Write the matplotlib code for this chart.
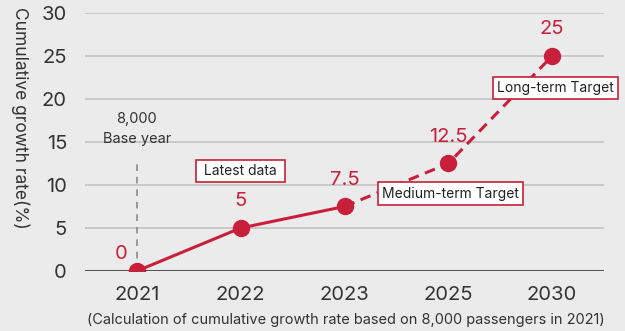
import matplotlib
matplotlib.use("Agg")
import matplotlib.pyplot as plt

years = ["2021", "2022", "2023", "2025", "2030"]
values = [0, 5, 7.5, 12.5, 25]
value_labels = ["0", "5", "7.5", "12.5", "25"]
yticks = [0, 5, 10, 15, 20, 25, 30]

RED = "#c8203a"
BG = "#ebebeb"
TXT = "#333333"

plt.rcParams['font.family'] = ['Inter', 'DejaVu Sans']

fig = plt.figure(figsize=(6.25, 3.31), dpi=100, facecolor=BG)
ax = fig.add_axes([0.136, 0.1813, 0.8304, 0.7794], facecolor=BG)

x = list(range(len(years)))
ax.set_xlim(-0.5, 4.5)
ax.set_ylim(0, 30)

for t in yticks[1:]:
    ax.axhline(t, color="#c9c9c9", lw=1.4, zorder=1)
ax.axhline(0, color="#555555", lw=2.2, zorder=2)

# base-year marker
ax.plot([0, 0], [0, 12.9], color="#8a8a8a", lw=1.2, ls=(0, (4, 3.5)), zorder=2)
ax.text(0, 17.7, "8,000", ha="center", va="center", fontsize=10.5, color=TXT)
ax.text(0, 15.3, "Base year", ha="center", va="center", fontsize=10.5, color=TXT)

# solid then dashed
ax.plot(x[:3], values[:3], color=RED, lw=2.2, zorder=3, solid_capstyle="butt")
ax.plot(x[2:], values[2:], color=RED, lw=2.2, ls=(0, (3.5, 2.2)), zorder=3)
ax.plot(x, values, "o", color=RED, ms=11.5, zorder=4)

offsets = [(-0.15, 2.0), (0, 3.1), (0, 3.1), (0, 3.1), (0, 3.1)]
for xi, v, lab, (dx, dy) in zip(x, values, value_labels, offsets):
    ax.text(xi + dx, v + dy, lab, ha="center", va="center", fontsize=14.5, color=RED, zorder=5)

box = dict(boxstyle="square,pad=0.3", fc="white", ec=RED, lw=1.2)
ax.text(1.0, 11.6, " Latest data ", ha="center", va="center", fontsize=10, color="#222222", bbox=box, zorder=6)
ax.text(3.02, 9.0, "Medium-term Target", ha="center", va="center", fontsize=10, color="#222222", bbox=box, zorder=6)
ax.text(4.03, 21.3, "Long-term Target", ha="center", va="center", fontsize=10, color="#222222", bbox=box, zorder=6)

ax.set_xticks(x)
ax.set_xticklabels(years)
ax.set_yticks(yticks)
ax.tick_params(axis="both", length=0, labelsize=14.5, colors=TXT)
ax.tick_params(axis="x", pad=11)
ax.tick_params(axis="y", pad=13)
for s in ax.spines.values():
    s.set_visible(False)

fig.text(0.032, 0.643, "Cumulative growth rate(%)", rotation=270, ha="center", va="center",
         fontsize=12.5, color=TXT)
fig.text(0.553, 0.033, "(Calculation of cumulative growth rate based on 8,000 passengers in 2021)",
         ha="center", va="center", fontsize=10.5, color=TXT)

fig.savefig("out.png", dpi=100, facecolor=BG)
